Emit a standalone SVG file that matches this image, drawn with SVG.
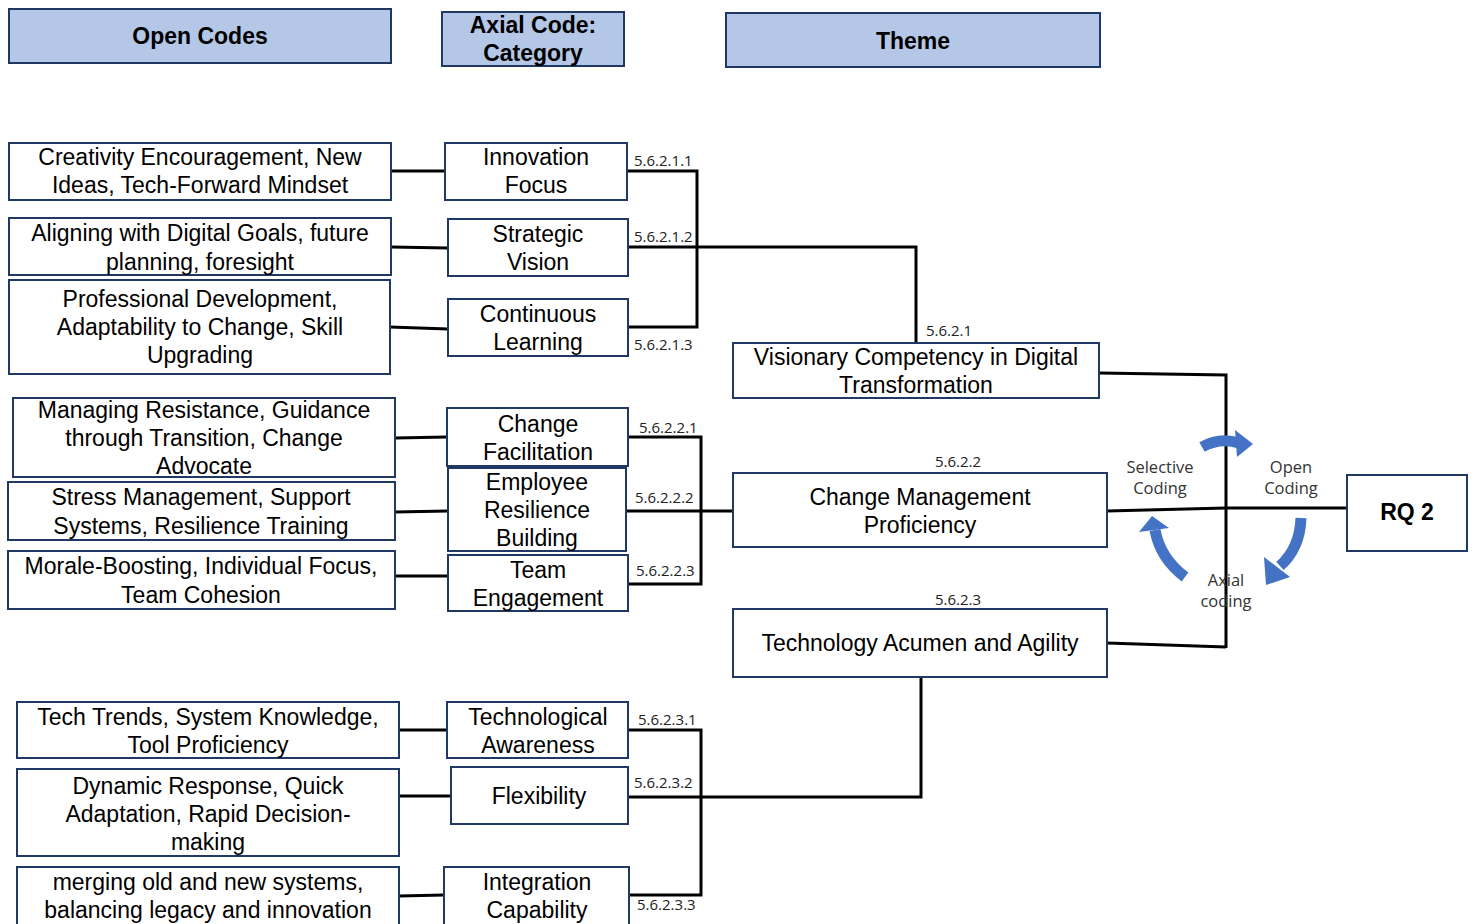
<svg xmlns="http://www.w3.org/2000/svg" width="1474" height="924" viewBox="0 0 1474 924">
  <style>
    .hdr { fill: #b4c7e7; stroke: #203864; stroke-width: 2; }
    .box { fill: #ffffff; stroke: #203864; stroke-width: 2; }
    .ht { font-family: "Liberation Sans", Arial, sans-serif; font-size: 23px; font-weight: bold; fill: #000; text-anchor: middle; }
    .t { font-family: "Liberation Sans", Arial, sans-serif; font-size: 23px; fill: #000; text-anchor: middle; }
    .num { font-family: "Open Sans", "Noto Sans", sans-serif; font-size: 15px; fill: #222; }
    .numc { font-family: "Open Sans", "Noto Sans", sans-serif; font-size: 15px; fill: #222; text-anchor: middle; }
    .cyc { font-family: "Open Sans", "Noto Sans", sans-serif; font-size: 16.5px; fill: #333; text-anchor: middle; }
    .ln { fill: none; stroke: #000; stroke-width: 3; }
    .arc { fill: none; stroke: #4472c4; stroke-width: 11; }
    .head { fill: #4472c4; }
  </style>

  <!-- column headers -->
  <g id="hdr-open">
    <rect class="hdr" x="9" y="9" width="382" height="54"/>
    <text class="ht" x="200" y="44">Open Codes</text>
  </g>
  <g id="hdr-axial">
    <rect class="hdr" x="442" y="12" width="182" height="54"/>
    <text class="ht" x="533" y="33">Axial Code:</text>
    <text class="ht" x="533" y="61">Category</text>
  </g>
  <g id="hdr-theme">
    <rect class="hdr" x="726" y="13" width="374" height="54"/>
    <text class="ht" x="913" y="49">Theme</text>
  </g>

  <!-- connectors -->
  <g id="connectors">
    <!-- theme 1 -->
    <path class="ln" d="M391,171 L445,171"/>
    <path class="ln" d="M391,247 L448,248"/>
    <path class="ln" d="M390,327 L448,329"/>
    <path class="ln" d="M627,171 L697,171 L697,327 L628,327"/>
    <path class="ln" d="M628,247 L916,247 L916,343"/>
    <!-- theme 2 -->
    <path class="ln" d="M395,438 L447,437"/>
    <path class="ln" d="M395,512 L448,511"/>
    <path class="ln" d="M395,576 L448,576"/>
    <path class="ln" d="M628,437 L701,437 L701,584 L628,584"/>
    <path class="ln" d="M626,511 L733,511"/>
    <!-- theme 3 -->
    <path class="ln" d="M399,730 L447,730"/>
    <path class="ln" d="M399,796 L451,796"/>
    <path class="ln" d="M399,896 L444,895"/>
    <path class="ln" d="M628,730 L701,730 L701,895 L629,895"/>
    <path class="ln" d="M628,797 L921,797 L921,677"/>
    <!-- themes to research question -->
    <path class="ln" d="M1099,373 L1226,375 L1226,648"/>
    <path class="ln" d="M1107,643 L1226,647"/>
    <path class="ln" d="M1107,511 L1226,508 L1347,508"/>
  </g>

  <!-- code numbers -->
  <g id="numbers">
    <text class="num" x="634" y="166">5.6.2.1.1</text>
    <text class="num" x="634" y="242">5.6.2.1.2</text>
    <text class="num" x="634" y="350">5.6.2.1.3</text>
    <text class="num" x="926" y="336">5.6.2.1</text>
    <text class="num" x="639" y="433">5.6.2.2.1</text>
    <text class="num" x="635" y="503">5.6.2.2.2</text>
    <text class="num" x="636" y="576">5.6.2.2.3</text>
    <text class="numc" x="958" y="467">5.6.2.2</text>
    <text class="numc" x="958" y="605">5.6.2.3</text>
    <text class="num" x="638" y="725">5.6.2.3.1</text>
    <text class="num" x="634" y="788">5.6.2.3.2</text>
    <text class="num" x="637" y="910">5.6.2.3.3</text>
  </g>

  <!-- open codes -->
  <g id="open-1">
    <rect class="box" x="9" y="143" width="382" height="57"/>
    <text class="t" x="200" y="165">Creativity Encouragement, New</text>
    <text class="t" x="200" y="193">Ideas, Tech-Forward Mindset</text>
  </g>
  <g id="open-2">
    <rect class="box" x="9" y="218" width="382" height="57"/>
    <text class="t" x="200" y="241">Aligning with Digital Goals, future</text>
    <text class="t" x="200" y="270">planning, foresight</text>
  </g>
  <g id="open-3">
    <rect class="box" x="9" y="280" width="381" height="94"/>
    <text class="t" x="200" y="307">Professional Development,</text>
    <text class="t" x="200" y="335">Adaptability to Change, Skill</text>
    <text class="t" x="200" y="363">Upgrading</text>
  </g>
  <g id="open-4">
    <rect class="box" x="13" y="398" width="382" height="79"/>
    <text class="t" x="204" y="418">Managing Resistance, Guidance</text>
    <text class="t" x="204" y="446">through Transition, Change</text>
    <text class="t" x="204" y="474">Advocate</text>
  </g>
  <g id="open-5">
    <rect class="box" x="8" y="482" width="387" height="58"/>
    <text class="t" x="201" y="505">Stress Management, Support</text>
    <text class="t" x="201" y="534">Systems, Resilience Training</text>
  </g>
  <g id="open-6">
    <rect class="box" x="8" y="551" width="387" height="58"/>
    <text class="t" x="201" y="574">Morale-Boosting, Individual Focus,</text>
    <text class="t" x="201" y="603">Team Cohesion</text>
  </g>
  <g id="open-7">
    <rect class="box" x="17" y="702" width="382" height="56"/>
    <text class="t" x="208" y="725">Tech Trends, System Knowledge,</text>
    <text class="t" x="208" y="753">Tool Proficiency</text>
  </g>
  <g id="open-8">
    <rect class="box" x="17" y="769" width="382" height="87"/>
    <text class="t" x="208" y="794">Dynamic Response, Quick</text>
    <text class="t" x="208" y="822">Adaptation, Rapid Decision-</text>
    <text class="t" x="208" y="850">making</text>
  </g>
  <g id="open-9">
    <rect class="box" x="17" y="867" width="382" height="62"/>
    <text class="t" x="208" y="890">merging old and new systems,</text>
    <text class="t" x="208" y="918">balancing legacy and innovation</text>
  </g>

  <!-- axial categories -->
  <g id="axial-1">
    <rect class="box" x="445" y="143" width="182" height="57"/>
    <text class="t" x="536" y="165">Innovation</text>
    <text class="t" x="536" y="193">Focus</text>
  </g>
  <g id="axial-2">
    <rect class="box" x="448" y="219" width="180" height="57"/>
    <text class="t" x="538" y="242">Strategic</text>
    <text class="t" x="538" y="270">Vision</text>
  </g>
  <g id="axial-3">
    <rect class="box" x="448" y="299" width="180" height="57"/>
    <text class="t" x="538" y="322">Continuous</text>
    <text class="t" x="538" y="350">Learning</text>
  </g>
  <g id="axial-4">
    <rect class="box" x="447" y="408" width="181" height="58"/>
    <text class="t" x="538" y="432">Change</text>
    <text class="t" x="538" y="460">Facilitation</text>
  </g>
  <g id="axial-5">
    <rect class="box" x="448" y="468" width="178" height="83"/>
    <text class="t" x="537" y="490">Employee</text>
    <text class="t" x="537" y="518">Resilience</text>
    <text class="t" x="537" y="546">Building</text>
  </g>
  <g id="axial-6">
    <rect class="box" x="448" y="555" width="180" height="56"/>
    <text class="t" x="538" y="578">Team</text>
    <text class="t" x="538" y="606">Engagement</text>
  </g>
  <g id="axial-7">
    <rect class="box" x="447" y="702" width="181" height="56"/>
    <text class="t" x="538" y="725">Technological</text>
    <text class="t" x="538" y="753">Awareness</text>
  </g>
  <g id="axial-8">
    <rect class="box" x="451" y="767" width="177" height="57"/>
    <text class="t" x="539" y="804">Flexibility</text>
  </g>
  <g id="axial-9">
    <rect class="box" x="444" y="867" width="185" height="62"/>
    <text class="t" x="537" y="890">Integration</text>
    <text class="t" x="537" y="918">Capability</text>
  </g>

  <!-- themes -->
  <g id="theme-1">
    <rect class="box" x="733" y="343" width="366" height="55"/>
    <text class="t" x="916" y="365">Visionary Competency in Digital</text>
    <text class="t" x="916" y="393">Transformation</text>
  </g>
  <g id="theme-2">
    <rect class="box" x="733" y="473" width="374" height="74"/>
    <text class="t" x="920" y="505">Change Management</text>
    <text class="t" x="920" y="533">Proficiency</text>
  </g>
  <g id="theme-3">
    <rect class="box" x="733" y="609" width="374" height="68"/>
    <text class="t" x="920" y="651">Technology Acumen and Agility</text>
  </g>

  <!-- research question -->
  <g id="rq2">
    <rect class="box" x="1347" y="475" width="120" height="76"/>
    <text class="ht" x="1407" y="520">RQ 2</text>
  </g>

  <!-- coding cycle -->
  <g id="coding-cycle">
    <path class="arc" d="M1202,447 Q1220,437 1239,443"/>
    <polygon class="head" points="1235,430 1253,444 1237,457"/>
    <path class="arc" d="M1301,518 Q1300,548 1280,566"/>
    <polygon class="head" points="1264,557 1290,577 1266,585"/>
    <path class="arc" d="M1185,577 Q1160,558 1155,530"/>
    <polygon class="head" points="1139,532 1152,516 1169,528"/>
    <text class="cyc" x="1160" y="473">Selective</text>
    <text class="cyc" x="1160" y="494">Coding</text>
    <text class="cyc" x="1291" y="473">Open</text>
    <text class="cyc" x="1291" y="494">Coding</text>
    <text class="cyc" x="1226" y="586">Axial</text>
    <text class="cyc" x="1226" y="607">coding</text>
  </g>
</svg>
